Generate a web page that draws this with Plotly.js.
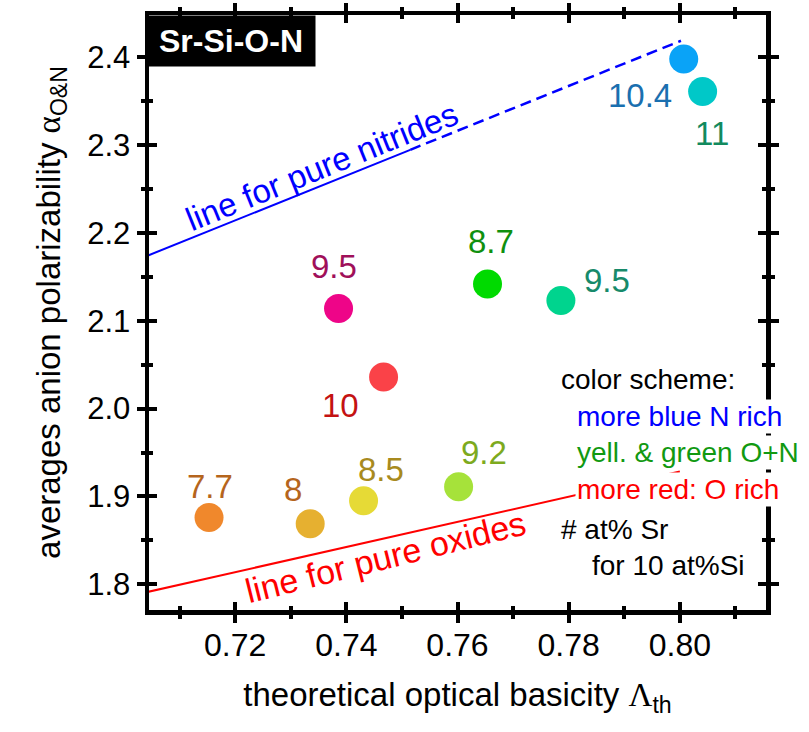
<!DOCTYPE html>
<html>
<head>
<meta charset="utf-8">
<script src="https://cdn.plot.ly/plotly-3.0.1.min.js"></script>
<style>html,body{margin:0;padding:0;background:#fff;}</style>
</head>
<body>
<div id="chart" style="width:809px;height:732px;"></div>
<script>
// ---- data ----
const basicity = [0.7153, 0.7335, 0.7431, 0.7602, 0.7386, 0.7467, 0.7654, 0.7786, 0.8007, 0.8041];
const polarizability = [1.876, 1.869, 1.895, 1.911, 2.114, 2.036, 2.142, 2.123, 2.398, 2.361];
const srLabels = ["7.7", "8", "8.5", "9.2", "9.5", "10", "8.7", "9.5", "10.4", "11"];
const markerColors = ["#F0882C", "#E6B030", "#E6DA36", "#A6E23A", "#EE0588", "#FA4248", "#00DA00", "#00D48E", "#0AA3F7", "#00C8C8"];
const labelColors = ["#B5651D", "#B5651D", "#A88A1E", "#7DAA1E", "#A0105A", "#C41212", "#0F900F", "#178A6A", "#1A6FAF", "#128A5E"];

const nitrideSolidX = [0.700, 0.7515];
const nitrideSolidY = [2.1633, 2.2947];
const nitrideDashX = [0.7515, 0.8002];
const nitrideDashY = [2.2947, 2.4189];
const oxideX = [0.700, 0.800];
const oxideY = [1.7852, 1.9283];

const xTickVals = [0.72, 0.74, 0.76, 0.78, 0.80];
const xTickText = ["0.72", "0.74", "0.76", "0.78", "0.80"];
const yTickVals = [1.8, 1.9, 2.0, 2.1, 2.2, 2.3, 2.4];
const yTickText = ["1.8", "1.9", "2.0", "2.1", "2.2", "2.3", "2.4"];

const legendLines = ["color scheme:", "more blue N rich", "yell. &amp; green O+N", "more red: O rich", "# at% Sr", "for 10 at%Si"];
const legendColors = ["#000000", "#0000FF", "#119911", "#FF0000", "#000000", "#000000"];

// ---- layout helpers (positions/styles) ----
const labelShift = [[1, 31], [-17, 34], [17, 31], [25, 34], [-5, 42], [-43, -28], [3, 42], [46, 20], [-44, -36], [9, -42]];
const legendPos = [[0.664, 0.3866], [0.691, 0.3249], [0.691, 0.2639], [0.691, 0.2017], [0.664, 0.1361], [0.7153, 0.0756]];

const FONT = "Liberation Sans, Arial, sans-serif";
const xRange = [0.7045, 0.8155];
const yRange = [1.7707, 2.4482];

const traces = [
  {x: nitrideSolidX, y: nitrideSolidY, mode: "lines", line: {color: "#0000FF", width: 2}, hoverinfo: "skip", showlegend: false},
  {x: nitrideDashX, y: nitrideDashY, mode: "lines", line: {color: "#0000FF", width: 2.5, dash: "11px,6px"}, hoverinfo: "skip", showlegend: false},
  {x: oxideX, y: oxideY, mode: "lines", line: {color: "#FF0000", width: 2}, hoverinfo: "skip", showlegend: false},
  {x: basicity, y: polarizability, mode: "markers", marker: {size: 29, color: markerColors, line: {width: 0}}, showlegend: false},
  {x: basicity, y: polarizability, xaxis: "x2", yaxis: "y2", mode: "markers", marker: {size: 1, opacity: 0}, hoverinfo: "skip", showlegend: false}
];

const annotations = [];
srLabels.forEach((t, i) => {
  annotations.push({
    x: basicity[i], y: polarizability[i], xref: "x", yref: "y", text: t, showarrow: false,
    xshift: labelShift[i][0], yshift: labelShift[i][1],
    font: {family: FONT, size: 33, color: labelColors[i]}
  });
});
annotations.push({
  x: 0.7356, y: 2.2756, xref: "x", yref: "y", text: "line for pure nitrides", showarrow: false,
  textangle: -22, font: {family: FONT, size: 33, color: "#0000FF"}
});
annotations.push({
  x: 0.7470, y: 1.8305, xref: "x", yref: "y", text: "line for pure oxides", showarrow: false,
  textangle: -14, font: {family: FONT, size: 34, color: "#FF0000"}
});
legendLines.forEach((t, i) => {
  annotations.push({
    x: legendPos[i][0], y: legendPos[i][1], xref: "paper", yref: "paper", xanchor: "left", yanchor: "middle",
    text: t, showarrow: false, bgcolor: "#FFFFFF", borderpad: 1,
    font: {family: FONT, size: 28, color: legendColors[i]}
  });
});
annotations.push({
  x: 0, y: 1, xref: "paper", yref: "paper", xanchor: "left", yanchor: "top", xshift: -3,
  text: "<b>Sr-Si-O-N</b>", showarrow: false, bgcolor: "#000000", width: 166, height: 48,
  font: {family: FONT, size: 32, color: "#FFFFFF"}
});

const axisCommon = {showgrid: false, zeroline: false, showline: true, linecolor: "#000", linewidth: 4.5, tickcolor: "#000"};

const layout = {
  width: 809, height: 732,
  margin: {l: 149, r: 43, t: 15, b: 122},
  paper_bgcolor: "#fff", plot_bgcolor: "#fff",
  font: {family: FONT, color: "#000"},
  xaxis: Object.assign({}, axisCommon, {
    range: xRange, tickvals: xTickVals, ticktext: xTickText,
    ticks: "outside", ticklen: 8, tickwidth: 4, mirror: "ticks",
    minor: {dtick: 0.01, tick0: 0.70, ticks: "outside", ticklen: 4, tickwidth: 4, tickcolor: "#000"},
    tickfont: {family: FONT, size: 32, color: "#000"}, ticklabelstandoff: -5,
    title: {text: "theoretical optical basicity <span style=\"font-family:'Liberation Serif'\">Λ</span><sub>th</sub>", font: {family: FONT, size: 33, color: "#000"}, standoff: 22}
  }),
  yaxis: Object.assign({}, axisCommon, {
    range: yRange, tickvals: yTickVals, ticktext: yTickText,
    ticks: "outside", ticklen: 8, tickwidth: 4, mirror: "ticks",
    minor: {dtick: 0.05, tick0: 1.75, ticks: "outside", ticklen: 4, tickwidth: 4, tickcolor: "#000"},
    tickfont: {family: FONT, size: 31, color: "#000"},
    title: {text: "averages anion polarizability <span style=\"font-family:'Liberation Serif'\">α</span><sub>O&amp;N</sub>", font: {family: FONT, size: 33, color: "#000"}, standoff: 18}
  }),
  xaxis2: Object.assign({}, axisCommon, {
    overlaying: "x", anchor: "y2", side: "bottom", range: xRange, tickvals: xTickVals,
    showticklabels: false, ticks: "inside", ticklen: 8, tickwidth: 4, mirror: "ticks",
    minor: {dtick: 0.01, tick0: 0.70, ticks: "inside", ticklen: 4, tickwidth: 4, tickcolor: "#000"}
  }),
  yaxis2: Object.assign({}, axisCommon, {
    overlaying: "y", anchor: "x2", side: "left", range: yRange, tickvals: yTickVals,
    showticklabels: false, ticks: "inside", ticklen: 8, tickwidth: 4, mirror: "ticks",
    minor: {dtick: 0.05, tick0: 1.75, ticks: "inside", ticklen: 4, tickwidth: 4, tickcolor: "#000"}
  }),
  annotations: annotations,
  showlegend: false
};

Plotly.newPlot("chart", traces, layout, {displayModeBar: false, staticPlot: true});
</script>
</body>
</html>
